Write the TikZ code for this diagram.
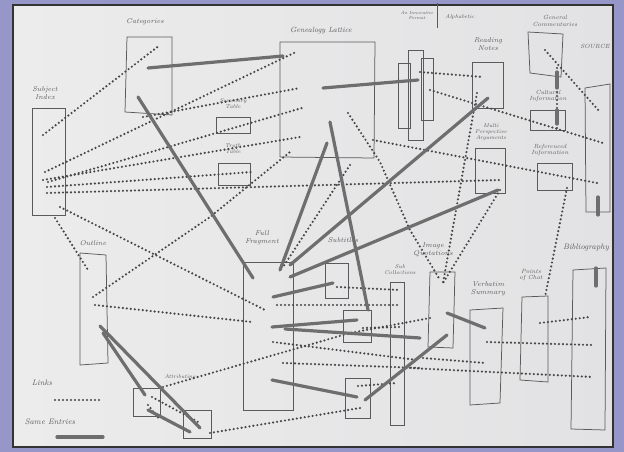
\documentclass[tikz,border=0pt]{standalone}
\begin{document}
\definecolor{framec}{RGB}{150,150,200}
\definecolor{paperl}{RGB}{236,236,236}
\definecolor{paperr}{RGB}{226,226,228}
\definecolor{inkc}{RGB}{90,90,90}
\definecolor{dotc}{RGB}{70,70,70}
\definecolor{samec}{RGB}{110,110,110}
\begin{tikzpicture}[x=1pt,y=-1pt,
  boxst/.style={draw=inkc, line width=0.75pt},
  dots/.style={draw=dotc, line width=2.4pt, line cap=round, dash pattern=on 0pt off 4pt},
  same/.style={draw=samec, line width=3.2pt, line cap=round},
  lab/.style={font=\fontsize{7}{7.5}\selectfont\itshape, text=inkc, align=center, inner sep=0pt}]
\useasboundingbox (0,0) rectangle (624,452);
\fill[framec] (0,0) rectangle (624,452);
\shade[left color=paperl, right color=paperr] (13,5) rectangle (613,447);
\draw[black!80, line width=1.2pt] (13,5) rectangle (613,447);

% ---------- boxes ----------
\draw[boxst] (32,108) rectangle (65,215);   % subject index
\draw[boxst] (127,37) -- (172,37) -- (172,115) -- (125,112) -- cycle; % categories
\draw[boxst] (216,117) rectangle (250,133);
\draw[boxst] (218,163) rectangle (250,185);
\draw[boxst] (280,42) -- (375,42) -- (374,158) -- (280,157) -- cycle; % genealogy
\draw[boxst] (398,63) rectangle (410,128);
\draw[boxst] (408,50) rectangle (423,140);
\draw[boxst] (421,58) rectangle (433,120);
\draw[boxst] (472,62) rectangle (503,108);  % reading notes
\draw[boxst] (528,32) -- (563,34) -- (561,77) -- (530,73) -- cycle; % general commentaries
\draw[boxst] (585,88) -- (610,84) -- (610,212) -- (586,212) -- cycle; % source
\draw[boxst] (530,110) rectangle (565,130); % cultural
\draw[boxst] (475,148) rectangle (505,193); % multi
\draw[boxst] (537,163) rectangle (572,190); % referenced
\draw[boxst] (573,270) -- (606,268) -- (605,430) -- (571,429) -- cycle; % bibliography
\draw[boxst] (80,253) -- (106,255) -- (108,363) -- (80,365) -- cycle; % outline
\draw[boxst] (243,262) rectangle (293,410); % full fragment
\draw[boxst] (325,263) rectangle (348,298);
\draw[boxst] (343,310) rectangle (371,342);
\draw[boxst] (345,378) rectangle (370,418);
\draw[boxst] (390,282) rectangle (404,425);
\draw[boxst] (430,272) -- (455,272) -- (453,348) -- (428,347) -- cycle; % image quotations
\draw[boxst] (470,310) -- (503,308) -- (500,403) -- (470,405) -- cycle; % verbatim
\draw[boxst] (522,297) -- (548,296) -- (548,382) -- (520,380) -- cycle; % points
\draw[boxst] (133,388) rectangle (160,416);
\draw[boxst] (183,410) rectangle (211,438);
\draw[boxst] (437,3) -- (437,28);

% ---------- labels ----------
\node[lab] at (45,93) {Subject\\Index};
\node[lab] at (145,22) {Categories};
\node[lab, font=\fontsize{5.5}{6}\selectfont\itshape] at (233,104) {Summary\\Table};
\node[lab, font=\fontsize{5.5}{6}\selectfont\itshape] at (233,149) {Truth\\Table};
\node[lab, font=\fontsize{7.5}{8}\selectfont\itshape] at (321,31) {Genealogy Lattice};
\node[lab, font=\fontsize{4.5}{5}\selectfont\itshape] at (417,15) {An Innovative\\Format};
\node[lab, font=\fontsize{5.5}{6}\selectfont\itshape] at (460,17) {Alphabetic};
\node[lab] at (488,44) {Reading\\Notes};
\node[lab, font=\fontsize{6}{6.5}\selectfont\itshape] at (555,21) {General\\Commentaries};
\node[lab, font=\fontsize{6}{6.5}\selectfont\itshape] at (595,46) {SOURCE};
\node[lab, font=\fontsize{6}{6.5}\selectfont\itshape] at (548,96) {Cultural\\Information};
\node[lab, font=\fontsize{5.5}{6}\selectfont\itshape] at (491,132) {Multi\\Perspective\\Arguments};
\node[lab, font=\fontsize{6}{6.5}\selectfont\itshape] at (550,150) {Referenced\\Information};
\node[lab, font=\fontsize{8}{8.5}\selectfont\itshape] at (586,248) {Bibliography};
\node[lab] at (93,243) {Outline};
\node[lab] at (262,238) {Full\\Fragment};
\node[lab] at (343,240) {Subtitles};
\node[lab, font=\fontsize{5.5}{6}\selectfont\itshape] at (400,270) {Sub\\Collections};
\node[lab] at (433,250) {Image\\Quotations};
\node[lab] at (488,289) {Verbatim\\Summary};
\node[lab, font=\fontsize{6}{6.5}\selectfont\itshape] at (531,275) {Points\\of Chat};
\node[lab, font=\fontsize{5.5}{6}\selectfont\itshape] at (180,377) {Attributing};
\node[lab, font=\fontsize{8}{8.5}\selectfont\itshape] at (42,383) {Links};
\node[lab, font=\fontsize{8}{8.5}\selectfont\itshape] at (50,422) {Same Entries};

% ---------- dotted links ----------
\draw[dots] (43,135) -- (160,45);
\draw[dots] (45,172) -- (296,52);
\draw[dots] (48,182) -- (302,108);
\draw[dots] (43,180) -- (300,137);
\draw[dots] (47,187) -- (252,172);
\draw[dots] (47,193) -- (500,180);
\draw[dots] (60,207) -- (265,310);
\draw[dots] (55,218) -- (88,270);
\draw[dots] (93,297) -- (210,217) -- (290,152);
\draw[dots] (95,305) -- (252,322);
\draw[dots] (143,117) -- (300,88);
\draw[dots] (348,113) -- (380,162) -- (410,230) -- (440,280);
\draw[dots] (477,93) -- (465,160) -- (443,283);
\draw[dots] (500,190) -- (443,283);
\draw[dots] (373,140) -- (597,183);
\draw[dots] (420,72) -- (483,77);
\draw[dots] (430,90) -- (603,143);
\draw[dots] (545,50) -- (600,112);
\draw[dots] (557,68) -- (557,128);
\draw[dots] (567,188) -- (545,297);
\draw[dots] (350,165) -- (283,267);
\draw[dots] (277,305) -- (400,305);
\draw[dots] (337,287) -- (400,290);
\draw[dots] (273,342) -- (417,360);
\draw[dots] (283,363) -- (420,368);
\draw[dots] (163,387) -- (350,333) -- (430,318);
\draw[dots] (210,433) -- (360,408);
\draw[dots] (358,386) -- (397,383);
\draw[dots] (363,328) -- (400,327);
\draw[dots] (487,342) -- (592,345);
\draw[dots] (540,323) -- (590,317);
\draw[dots] (410,368) -- (593,377);
\draw[dots] (423,358) -- (485,363);
\draw[dots] (152,397) -- (200,423);
\draw[dots] (148,405) -- (160,420);
\draw[dots] (55,400) -- (100,400);

% ---------- same entries ----------
\draw[same] (148,68) -- (283,56);
\draw[same] (138,97) -- (253,278);
\draw[same] (323,88) -- (418,80);
\draw[same] (330,122) -- (368,310);
\draw[same] (327,143) -- (280,270);
\draw[same] (498,190) -- (290,277);
\draw[same] (488,98) -- (290,265);
\draw[same] (273,297) -- (333,283);
\draw[same] (272,327) -- (357,320);
\draw[same] (285,329) -- (420,338);
\draw[same] (272,380) -- (357,397);
\draw[same] (365,400) -- (447,335);
\draw[same] (447,313) -- (485,328);
\draw[same] (100,326) -- (200,428);
\draw[same] (103,333) -- (145,395);
\draw[same] (148,410) -- (190,432);
\draw[same] (598,197) -- (598,215);
\draw[same] (596,268) -- (596,286);
\draw[same] (557,72) -- (557,88);
\draw[same] (557,110) -- (557,124);
\draw[same] (57,437) -- (103,437);
\end{tikzpicture}
\end{document}
